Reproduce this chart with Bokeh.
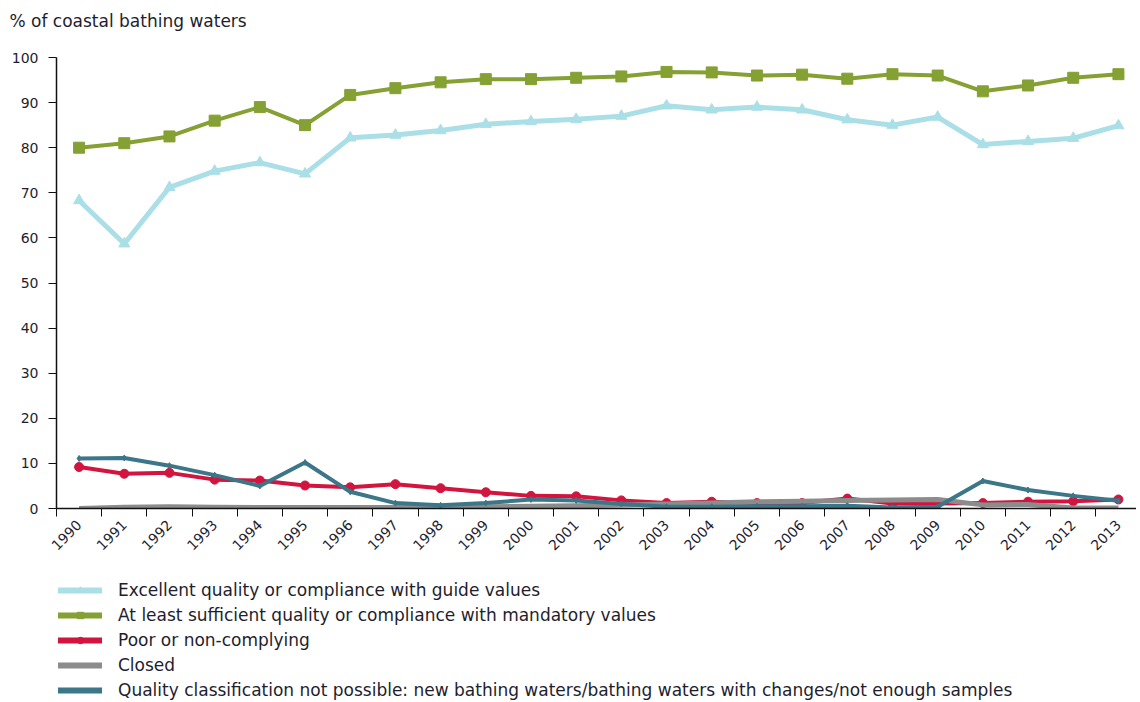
import math
from bokeh.plotting import figure
from bokeh.models import FixedTicker, Legend, LegendItem, Range1d, Title
from bokeh.layouts import column
from bokeh.embed import file_html
from bokeh.resources import INLINE

years = list(range(1990, 2014))
year_labels = [str(y) for y in years]

excellent = [68.3, 58.7, 71.2, 74.8, 76.7, 74.2, 82.2, 82.8, 83.8, 85.2, 85.8, 86.3,
             87.0, 89.3, 88.4, 89.0, 88.4, 86.2, 85.0, 86.8, 80.7, 81.4, 82.1, 84.9]
sufficient = [80.0, 81.0, 82.5, 86.0, 89.0, 85.0, 91.7, 93.2, 94.5, 95.2, 95.2, 95.5,
              95.8, 96.8, 96.7, 96.0, 96.2, 95.3, 96.3, 96.0, 92.5, 93.8, 95.5, 96.3]
poor = [9.2, 7.7, 7.9, 6.4, 6.2, 5.1, 4.7, 5.4, 4.5, 3.6, 2.8, 2.7,
        1.8, 1.2, 1.5, 1.2, 1.2, 2.2, 1.1, 1.1, 1.2, 1.5, 1.6, 2.0]
closed = [0.0, 0.3, 0.4, 0.3, 0.2, 0.2, 0.2, 0.2, 0.3, 0.4, 0.5, 0.6,
          0.8, 1.0, 1.2, 1.5, 1.6, 1.8, 1.9, 2.0, 0.8, 0.9, 0.1, 0.1]
not_possible = [11.1, 11.2, 9.5, 7.4, 5.0, 10.2, 3.7, 1.2, 0.7, 1.2, 2.0, 1.8,
                1.0, 0.4, 0.4, 0.5, 0.5, 0.6, 0.2, 0.4, 6.1, 4.1, 2.8, 1.7]

series_names = [
    "Excellent quality or compliance with guide values",
    "At least sufficient quality or compliance with mandatory values",
    "Poor or non-complying",
    "Closed",
    "Quality classification not possible: new bathing waters/bathing waters with changes/not enough samples",
]
y_ticks = [0, 10, 20, 30, 40, 50, 60, 70, 80, 90, 100]

FONT = "DejaVu Sans"
TXT = "#1e1e2e"

C_EXC = "#aadfe7"
C_SUF = "#85a033"
C_POOR = "#d3143f"
C_CLOSED = "#8c8c8c"
C_NP = "#3b7689"

W = 1136
H1 = 560
H2 = 140

p = figure(width=W, height=H1, output_backend="svg", toolbar_location=None,
           x_range=Range1d(1989.5, 2013.4), y_range=Range1d(0, 100),
           min_border_left=56, min_border_right=0, min_border_top=0, min_border_bottom=H1 - 508)
p.outline_line_color = None
p.xgrid.grid_line_color = None
p.ygrid.grid_line_color = None

# real title at the top, a blank spacer title between it and the frame
p.title.text = "% of coastal bathing waters"
p.title.text_font = FONT
p.title.text_font_size = "17px"
p.title.text_font_style = "normal"
p.title.text_color = TXT
p.title.align = "left"
p.title.offset = -47
p.title.standoff = 16
p.add_layout(Title(text=" ", text_font=FONT, text_font_size="10px", standoff=6), "above")

# y axis
p.yaxis.ticker = FixedTicker(ticks=y_ticks)
p.yaxis.axis_line_color = "#111111"
p.yaxis.axis_line_width = 1.5
p.yaxis.major_tick_line_color = "#111111"
p.yaxis.major_tick_out = 8
p.yaxis.major_tick_in = 0
p.yaxis.minor_tick_line_color = None
p.yaxis.major_label_text_font = FONT
p.yaxis.major_label_text_font_size = "14px"
p.yaxis.major_label_text_color = TXT
p.yaxis.major_label_standoff = 10

# x axis
boundaries = [y - 0.5 for y in years] + [years[-1] + 0.5]
p.xaxis.ticker = FixedTicker(ticks=years, minor_ticks=boundaries)
p.xaxis.major_label_overrides = {y: s for y, s in zip(years, year_labels)}
p.xaxis.axis_line_color = "#111111"
p.xaxis.axis_line_width = 1.5
p.xaxis.major_tick_line_color = None
p.xaxis.minor_tick_line_color = "#111111"
p.xaxis.minor_tick_out = 8
p.xaxis.minor_tick_in = 0
p.xaxis.major_label_orientation = math.pi / 4
p.xaxis.major_label_text_font = FONT
p.xaxis.major_label_text_font_size = "14px"
p.xaxis.major_label_text_color = TXT
p.xaxis.major_label_standoff = 6

p.line(years, excellent, line_color=C_EXC, line_width=5, line_join="round")
p.scatter(years, excellent, marker="triangle", size=11, fill_color=C_EXC, line_color=C_EXC)
p.line(years, sufficient, line_color=C_SUF, line_width=4, line_join="round")
p.scatter(years, sufficient, marker="square", size=11, fill_color=C_SUF, line_color=C_SUF)
p.line(years, poor, line_color=C_POOR, line_width=4, line_join="round")
p.scatter(years, poor, marker="circle", size=9, fill_color=C_POOR, line_color=C_POOR)
p.line(years, closed, line_color=C_CLOSED, line_width=5, line_join="round")
p.line(years, not_possible, line_color=C_NP, line_width=4, line_join="round")
p.scatter(years, not_possible, marker="diamond", size=6, fill_color=C_NP, line_color=C_NP)

# legend figure below the chart (its dummy glyphs sit outside its visible range)
q = figure(width=W, height=H2, output_backend="svg", toolbar_location=None,
           x_range=Range1d(0, 1), y_range=Range1d(0, 1),
           x_axis_type=None, y_axis_type=None,
           min_border_left=0, min_border_right=0, min_border_top=0, min_border_bottom=0)
q.outline_line_color = None
q.xgrid.grid_line_color = None
q.ygrid.grid_line_color = None

off = [-10, -11]
l1 = q.line(off, off, line_color=C_EXC, line_width=6, line_cap="round")
k1 = q.scatter(off, off, marker="triangle", size=9, fill_color=C_EXC, line_color=C_EXC)
l2 = q.line(off, off, line_color=C_SUF, line_width=6, line_cap="round")
k2 = q.scatter(off, off, marker="square", size=10, fill_color=C_SUF, line_color=C_SUF)
l3 = q.line(off, off, line_color=C_POOR, line_width=6, line_cap="round")
k3 = q.scatter(off, off, marker="circle", size=8, fill_color=C_POOR, line_color=C_POOR)
l4 = q.line(off, off, line_color=C_CLOSED, line_width=6, line_cap="round")
l5 = q.line(off, off, line_color=C_NP, line_width=6, line_cap="round")

items = [
    LegendItem(label=series_names[0], renderers=[l1, k1]),
    LegendItem(label=series_names[1], renderers=[l2, k2]),
    LegendItem(label=series_names[2], renderers=[l3, k3]),
    LegendItem(label=series_names[3], renderers=[l4]),
    LegendItem(label=series_names[4], renderers=[l5]),
]
legend = Legend(items=items, location=(2, 0), orientation="vertical",
                border_line_color=None, background_fill_alpha=0,
                glyph_width=44, glyph_height=16, label_standoff=16, spacing=4,
                label_text_font=FONT, label_text_font_size="17px", label_text_color=TXT,
                padding=0, margin=0, label_height=21)
q.add_layout(legend, "center")

layout = column(p, q, spacing=0)
open("out.html", "w").write(file_html(layout, INLINE))
